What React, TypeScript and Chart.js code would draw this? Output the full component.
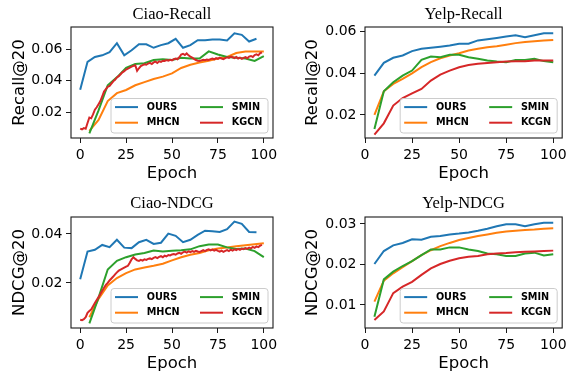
import React, { useEffect, useRef } from "react";
import { Chart, registerables } from "chart.js";
Chart.register(...registerables);

// ---------------- data ----------------
const xTickValues = [0, 25, 50, 75, 100];

const ciaoOursEpochs = [0, 4, 8, 12, 16, 20, 24, 28, 32, 36, 40, 44, 48, 52, 56, 60, 64, 68, 72, 76, 80, 84, 88, 92, 96];
const ciaoSmoothEpochs = [5, 10, 15, 20, 25, 30, 35, 40, 45, 50, 55, 60, 65, 70, 75, 80, 85, 90, 95, 100];
const ciaoKgcnEpochs = [
  0, 1, 2, 3, 4, 5, 6, 7, 8, 9, 10, 11, 12, 13, 14, 15, 16, 17, 18, 19,
  20, 21, 22, 23, 24, 25, 26, 27, 28, 29, 30, 31, 32, 33, 34, 35, 36, 37, 38, 39,
  40, 41, 42, 43, 44, 45, 46, 47, 48, 49, 50, 51, 52, 53, 54, 55, 56, 57, 58, 59,
  60, 61, 62, 63, 64, 65, 66, 67, 68, 69, 70, 71, 72, 73, 74, 75, 76, 77, 78, 79,
  80, 81, 82, 83, 84, 85, 86, 87, 88, 89, 90, 91, 92, 93, 94, 95, 96, 97, 98, 99,
];
const yelpEpochs = [5, 10, 15, 20, 25, 30, 35, 40, 45, 50, 55, 60, 65, 70, 75, 80, 85, 90, 95, 100];

// Ciao-Recall
const ciaoRecallOurs = [0.0342, 0.0519, 0.055, 0.056, 0.058, 0.0637, 0.056, 0.0592, 0.063, 0.063, 0.0608, 0.0625, 0.0637, 0.0665, 0.0608, 0.0625, 0.0656, 0.0656, 0.066, 0.066, 0.0654, 0.07, 0.069, 0.0648, 0.0665];
const ciaoRecallMhcn = [0.008, 0.015, 0.027, 0.032, 0.034, 0.037, 0.039, 0.041, 0.0425, 0.0445, 0.048, 0.05, 0.0515, 0.0525, 0.054, 0.055, 0.0575, 0.0585, 0.0585, 0.0585];
const ciaoRecallSmin = [0.0065, 0.021, 0.037, 0.042, 0.048, 0.0505, 0.051, 0.053, 0.0535, 0.053, 0.0545, 0.054, 0.054, 0.0585, 0.0565, 0.055, 0.0545, 0.054, 0.0525, 0.0555];
const ciaoRecallKgcn = [
  0.0095, 0.009, 0.0098, 0.0094, 0.013, 0.0165, 0.016, 0.0185, 0.0215, 0.023,
  0.025, 0.027, 0.03, 0.033, 0.0345, 0.036, 0.0365, 0.038, 0.0395, 0.0405,
  0.042, 0.0428, 0.044, 0.0452, 0.046, 0.047, 0.0475, 0.0482, 0.0488, 0.0493,
  0.0497, 0.0462, 0.0478, 0.0492, 0.0498, 0.0503, 0.05, 0.0508, 0.0512, 0.0505,
  0.0515, 0.052, 0.0512, 0.0522, 0.0518, 0.0526, 0.0524, 0.053, 0.0526, 0.0532,
  0.0528, 0.0536, 0.054, 0.0535, 0.0548, 0.0565, 0.057, 0.0562, 0.0572, 0.056,
  0.0552, 0.0545, 0.0538, 0.053, 0.0526, 0.0524, 0.0528, 0.0532, 0.0529, 0.0534,
  0.0531, 0.0536, 0.054, 0.0535, 0.0542, 0.0538, 0.0545, 0.054, 0.0536, 0.0542,
  0.0548, 0.0544, 0.0552, 0.0548, 0.0543, 0.055, 0.054, 0.0546, 0.0538, 0.0544,
  0.0549, 0.0542, 0.0552, 0.0556, 0.055, 0.0562, 0.0566, 0.056, 0.0574, 0.0578,
];

// Ciao-NDCG
const ciaoNdcgOurs = [0.0215, 0.0328, 0.0335, 0.0355, 0.0346, 0.0376, 0.0344, 0.0342, 0.0366, 0.0376, 0.0359, 0.0364, 0.0401, 0.0392, 0.0366, 0.0376, 0.0396, 0.0413, 0.0411, 0.0408, 0.0419, 0.045, 0.0441, 0.0408, 0.0407];
const ciaoNdcgMhcn = [0.006, 0.0135, 0.019, 0.022, 0.024, 0.0255, 0.0263, 0.027, 0.0278, 0.0292, 0.0305, 0.0315, 0.0322, 0.0333, 0.034, 0.0345, 0.035, 0.0354, 0.0358, 0.0362];
const ciaoNdcgSmin = [0.0035, 0.014, 0.0255, 0.029, 0.0305, 0.0316, 0.0322, 0.0332, 0.0328, 0.0331, 0.0333, 0.0337, 0.035, 0.0357, 0.0357, 0.0345, 0.0338, 0.034, 0.033, 0.0305];
const ciaoNdcgKgcn = [
  0.005, 0.0048, 0.0052, 0.006, 0.0078, 0.0085, 0.0092, 0.0105, 0.0118, 0.013,
  0.0142, 0.0155, 0.0168, 0.018, 0.0192, 0.02, 0.021, 0.0218, 0.0226, 0.0235,
  0.0243, 0.025, 0.0254, 0.0258, 0.0262, 0.0266, 0.027, 0.0282, 0.0296, 0.0305,
  0.0298, 0.0292, 0.029, 0.0294, 0.0291, 0.0296, 0.0294, 0.0298, 0.03, 0.0297,
  0.0302, 0.0305, 0.0301, 0.0306, 0.0309, 0.0305, 0.0311, 0.0308, 0.0314, 0.0312,
  0.0316, 0.0318, 0.0315, 0.032, 0.0323, 0.0319, 0.0325, 0.0328, 0.0324, 0.0329,
  0.0326, 0.033, 0.0327, 0.0331, 0.0328, 0.0326, 0.033, 0.0334, 0.033, 0.0335,
  0.0337, 0.0333, 0.0336, 0.0332, 0.0335, 0.0331, 0.0328, 0.0332, 0.0327, 0.0331,
  0.0334, 0.033, 0.0336, 0.0332, 0.0337, 0.0334, 0.0339, 0.0335, 0.034, 0.0338,
  0.0342, 0.0339, 0.0344, 0.0341, 0.0347, 0.0343, 0.0349, 0.0346, 0.0352, 0.0355,
];

// Yelp-Recall
const yelpRecallOurs = [0.0388, 0.0449, 0.0473, 0.0484, 0.0505, 0.0516, 0.0521, 0.0526, 0.0532, 0.054, 0.054, 0.0556, 0.0562, 0.0568, 0.0575, 0.058, 0.0571, 0.0581, 0.059, 0.059];
const yelpRecallMhcn = [0.0201, 0.0313, 0.0348, 0.0372, 0.0399, 0.0428, 0.0452, 0.0471, 0.0484, 0.0495, 0.0508, 0.0516, 0.0523, 0.0528, 0.0535, 0.0543, 0.0548, 0.0552, 0.0555, 0.0558];
const yelpRecallSmin = [0.0133, 0.0313, 0.0356, 0.0388, 0.0412, 0.0463, 0.0479, 0.0476, 0.0487, 0.0487, 0.0476, 0.0468, 0.046, 0.0455, 0.0452, 0.0463, 0.0463, 0.0468, 0.0457, 0.0452];
const yelpRecallKcgn = [0.0106, 0.016, 0.0245, 0.0281, 0.0303, 0.0324, 0.0364, 0.0393, 0.0412, 0.0428, 0.0439, 0.0444, 0.0448, 0.0452, 0.0455, 0.0457, 0.0457, 0.046, 0.046, 0.046];

// Yelp-NDCG
const yelpNdcgOurs = [0.0201, 0.0233, 0.0247, 0.0253, 0.0262, 0.0261, 0.0268, 0.027, 0.0274, 0.0276, 0.0279, 0.0283, 0.0288, 0.0294, 0.0299, 0.0299, 0.0294, 0.0299, 0.0303, 0.0303];
const yelpNdcgMhcn = [0.0108, 0.016, 0.0178, 0.0193, 0.0208, 0.0223, 0.0235, 0.0245, 0.0253, 0.026, 0.0265, 0.027, 0.0274, 0.0278, 0.0281, 0.0283, 0.0285, 0.0286, 0.0288, 0.0289];
const yelpNdcgSmin = [0.0071, 0.0163, 0.0182, 0.0196, 0.0208, 0.0223, 0.0237, 0.0237, 0.0242, 0.0242, 0.0237, 0.0233, 0.0227, 0.0225, 0.0221, 0.0221, 0.0227, 0.0229, 0.0222, 0.0225];
const yelpNdcgKcgn = [0.0063, 0.0084, 0.0129, 0.0145, 0.0157, 0.0174, 0.019, 0.0201, 0.0209, 0.0215, 0.0219, 0.0221, 0.0225, 0.0227, 0.0228, 0.023, 0.0231, 0.0232, 0.0233, 0.0234];

const recallTicks = [0.02, 0.04, 0.06];
const ciaoNdcgTicks = [0.02, 0.04];
const yelpNdcgTicks = [0.01, 0.02, 0.03];

// ---------------- styling ----------------
const C_OURS = "#1f77b4";
const C_MHCN = "#ff7f0e";
const C_SMIN = "#2ca02c";
const C_KGCN = "#d62728";

const SANS = "'DejaVu Sans', sans-serif";
const SERIF = "'Liberation Serif', 'Times New Roman', serif";
const TICK_SIZE = 14;
const LABEL_SIZE = 16.5;
const TITLE_SIZE = 16.5;
const LEGEND_SIZE = 9.7;

type S = { label: string; color: string; epochs: number[]; values: number[]; order: number };

function pts(epochs: number[], values: number[]) {
  return epochs.map((e, i) => ({ x: e, y: values[i] }));
}

const framePlugin = {
  id: "frameBox",
  afterDatasetsDraw(chart: any) {
    const { ctx, chartArea } = chart;
    const { left, top, right, bottom } = chartArea;
    ctx.save();
    ctx.strokeStyle = "#1a1a1a";
    ctx.lineWidth = 1.1;
    ctx.strokeRect(left, top, right - left, bottom - top);
    ctx.restore();
  },
};

const legendPlugin = {
  id: "boxLegend",
  afterDatasetsDraw(chart: any, _args: any, opts: any) {
    const { ctx, chartArea } = chart;
    const cols: string[][] = opts.cols;
    const W = 157, H = 34.5;
    const x0 = chartArea.right - 5 - W;
    const y0 = chartArea.bottom - 5 - H;
    ctx.save();
    const r = 3;
    ctx.beginPath();
    ctx.moveTo(x0 + r, y0);
    ctx.lineTo(x0 + W - r, y0);
    ctx.quadraticCurveTo(x0 + W, y0, x0 + W, y0 + r);
    ctx.lineTo(x0 + W, y0 + H - r);
    ctx.quadraticCurveTo(x0 + W, y0 + H, x0 + W - r, y0 + H);
    ctx.lineTo(x0 + r, y0 + H);
    ctx.quadraticCurveTo(x0, y0 + H, x0, y0 + H - r);
    ctx.lineTo(x0, y0 + r);
    ctx.quadraticCurveTo(x0, y0, x0 + r, y0);
    ctx.closePath();
    ctx.fillStyle = "rgba(255,255,255,0.8)";
    ctx.fill();
    ctx.strokeStyle = "#cccccc";
    ctx.lineWidth = 1;
    ctx.stroke();
    const handleX = [4, 89];
    const textX = [35.7, 120.7];
    const rowY = [8.6, 24.2];
    ctx.font = `bold ${LEGEND_SIZE}px ${SANS}`;
    ctx.textBaseline = "middle";
    ctx.textAlign = "left";
    cols.forEach((col, ci) => {
      col.forEach((label, ri) => {
        const ds = chart.data.datasets.find((d: any) => d.label === label);
        const y = y0 + rowY[ri];
        ctx.strokeStyle = ds ? ds.borderColor : "#000";
        ctx.lineWidth = 2;
        ctx.beginPath();
        ctx.moveTo(x0 + handleX[ci], y);
        ctx.lineTo(x0 + handleX[ci] + 23, y);
        ctx.stroke();
        ctx.fillStyle = "#000";
        ctx.fillText(label, x0 + textX[ci], y);
      });
    });
    ctx.restore();
  },
};

type PanelCfg = {
  title: string;
  ylabel: string;
  left: number;
  top: number;
  w: number;
  h: number;
  area: { l: number; r: number; t: number; b: number };
  titleY: number;
  epochY: number;
  xmin: number;
  xmax: number;
  ymin: number;
  ymax: number;
  yTicks: number[];
  series: S[];
  legendCols: string[][];
};

function Panel({ cfg }: { cfg: PanelCfg }) {
  const ref = useRef<HTMLCanvasElement | null>(null);
  useEffect(() => {
    const c = ref.current;
    if (!c) return;
    const W = cfg.w, H = cfg.h;
    const aL = cfg.area.l - cfg.left;
    const aR = cfg.area.r - cfg.left;
    const aT = cfg.area.t - cfg.top;
    const aB = cfg.area.b - cfg.top;
    const tLH = TITLE_SIZE * 1.2;
    const tCY = cfg.titleY - cfg.top;
    const lLH = LABEL_SIZE * 1.2;
    const eCY = cfg.epochY - cfg.top;
    const chart = new Chart(c, {
      type: "line",
      data: {
        datasets: cfg.series.map((s) => ({
          label: s.label,
          data: pts(s.epochs, s.values),
          borderColor: s.color,
          backgroundColor: s.color,
          borderWidth: 2,
          pointRadius: 0,
          pointHoverRadius: 0,
          tension: 0,
          fill: false,
          order: s.order,
        })),
      },
      options: {
        responsive: false,
        animation: false,
        devicePixelRatio: 1,
        events: [],
        layout: { padding: { left: 0, right: W - aR, top: 0, bottom: 0 } },
        plugins: {
          legend: { display: false },
          tooltip: { enabled: false },
          title: {
            display: true,
            text: cfg.title,
            fullSize: false,
            color: "#000",
            font: { family: SERIF, size: TITLE_SIZE, weight: "normal", lineHeight: 1.2 },
            padding: { top: tCY - tLH / 2, bottom: aT - tCY - tLH / 2 },
          },
          boxLegend: { cols: cfg.legendCols },
        },
        scales: {
          x: {
            type: "linear",
            min: cfg.xmin,
            max: cfg.xmax,
            afterBuildTicks: (ax: any) => {
              ax.ticks = xTickValues.map((v) => ({ value: v }));
            },
            afterFit: (ax: any) => {
              ax.height = H - aB;
            },
            grid: { display: true, drawOnChartArea: false, drawTicks: true, tickLength: 5, color: "#1a1a1a", lineWidth: 1 },
            border: { display: false },
            ticks: {
              color: "#000",
              font: { family: SANS, size: TICK_SIZE },
              padding: 4,
              maxRotation: 0,
              autoSkip: false,
              callback: (v: any) => String(v),
            },
            title: {
              display: true,
              text: "Epoch",
              color: "#000",
              font: { family: SANS, size: LABEL_SIZE, lineHeight: 1.2 },
              padding: { top: 0, bottom: H - eCY - lLH / 2 },
            },
          },
          y: {
            type: "linear",
            min: cfg.ymin,
            max: cfg.ymax,
            afterBuildTicks: (ax: any) => {
              ax.ticks = cfg.yTicks.map((v) => ({ value: v }));
            },
            afterFit: (ax: any) => {
              ax.width = aL;
            },
            grid: { display: true, drawOnChartArea: false, drawTicks: true, tickLength: 5, color: "#1a1a1a", lineWidth: 1 },
            border: { display: false },
            ticks: {
              color: "#000",
              font: { family: SANS, size: TICK_SIZE },
              padding: 3.5,
              autoSkip: false,
              callback: (v: any) => Number(v).toFixed(2),
            },
            title: {
              display: true,
              text: cfg.ylabel,
              color: "#000",
              font: { family: SANS, size: LABEL_SIZE, lineHeight: 1.2 },
              padding: { top: 20 - lLH / 2, bottom: 0 },
            },
          },
        },
      } as any,
      plugins: [framePlugin, legendPlugin],
    });
    return () => chart.destroy();
  }, [cfg]);
  return (
    <canvas
      ref={ref}
      width={cfg.w}
      height={cfg.h}
      style={{ position: "absolute", left: cfg.left, top: cfg.top, width: cfg.w, height: cfg.h }}
    />
  );
}

const panels: PanelCfg[] = [
  {
    title: "Ciao-Recall",
    ylabel: "Recall@20",
    left: 0, top: 0, w: 290, h: 188,
    area: { l: 71, r: 273, t: 27, b: 138 },
    titleY: 14.5, epochY: 173.4,
    xmin: -5, xmax: 105, ymin: 0.0035, ymax: 0.074,
    yTicks: recallTicks,
    series: [
      { label: "OURS", color: C_OURS, epochs: ciaoOursEpochs, values: ciaoRecallOurs, order: 3 },
      { label: "MHCN", color: C_MHCN, epochs: ciaoSmoothEpochs, values: ciaoRecallMhcn, order: 2 },
      { label: "SMIN", color: C_SMIN, epochs: ciaoSmoothEpochs, values: ciaoRecallSmin, order: 1 },
      { label: "KGCN", color: C_KGCN, epochs: ciaoKgcnEpochs, values: ciaoRecallKgcn, order: 0 },
    ],
    legendCols: [["OURS", "MHCN"], ["SMIN", "KGCN"]],
  },
  {
    title: "Yelp-Recall",
    ylabel: "Recall@20",
    left: 293, top: 0, w: 278, h: 188,
    area: { l: 365, r: 567, t: 27, b: 138 },
    titleY: 14.5, epochY: 173.4,
    xmin: 0, xmax: 104.75, ymin: 0.009, ymax: 0.062,
    yTicks: recallTicks,
    series: [
      { label: "OURS", color: C_OURS, epochs: yelpEpochs, values: yelpRecallOurs, order: 3 },
      { label: "MHCN", color: C_MHCN, epochs: yelpEpochs, values: yelpRecallMhcn, order: 2 },
      { label: "SMIN", color: C_SMIN, epochs: yelpEpochs, values: yelpRecallSmin, order: 1 },
      { label: "KCGN", color: C_KGCN, epochs: yelpEpochs, values: yelpRecallKcgn, order: 0 },
    ],
    legendCols: [["OURS", "MHCN"], ["SMIN", "KCGN"]],
  },
  {
    title: "Ciao-NDCG",
    ylabel: "NDCG@20",
    left: 0, top: 188, w: 290, h: 187,
    area: { l: 71, r: 273, t: 217, b: 328 },
    titleY: 203.8, epochY: 363.4,
    xmin: -5, xmax: 105, ymin: 0.0016, ymax: 0.0469,
    yTicks: ciaoNdcgTicks,
    series: [
      { label: "OURS", color: C_OURS, epochs: ciaoOursEpochs, values: ciaoNdcgOurs, order: 3 },
      { label: "MHCN", color: C_MHCN, epochs: ciaoSmoothEpochs, values: ciaoNdcgMhcn, order: 2 },
      { label: "SMIN", color: C_SMIN, epochs: ciaoSmoothEpochs, values: ciaoNdcgSmin, order: 1 },
      { label: "KGCN", color: C_KGCN, epochs: ciaoKgcnEpochs, values: ciaoNdcgKgcn, order: 0 },
    ],
    legendCols: [["OURS", "MHCN"], ["SMIN", "KGCN"]],
  },
  {
    title: "Yelp-NDCG",
    ylabel: "NDCG@20",
    left: 293, top: 188, w: 278, h: 187,
    area: { l: 365, r: 567, t: 217, b: 328 },
    titleY: 203.8, epochY: 363.4,
    xmin: 0, xmax: 104.75, ymin: 0.0043, ymax: 0.0317,
    yTicks: yelpNdcgTicks,
    series: [
      { label: "OURS", color: C_OURS, epochs: yelpEpochs, values: yelpNdcgOurs, order: 3 },
      { label: "MHCN", color: C_MHCN, epochs: yelpEpochs, values: yelpNdcgMhcn, order: 2 },
      { label: "SMIN", color: C_SMIN, epochs: yelpEpochs, values: yelpNdcgSmin, order: 1 },
      { label: "KCGN", color: C_KGCN, epochs: yelpEpochs, values: yelpNdcgKcgn, order: 0 },
    ],
    legendCols: [["OURS", "MHCN"], ["SMIN", "KCGN"]],
  },
];

export default function App() {
  return (
    <div style={{ position: "absolute", left: 0, top: 0, width: 571, height: 375, background: "#fff" }}>
      {panels.map((p) => (
        <Panel key={p.title} cfg={p} />
      ))}
    </div>
  );
}
